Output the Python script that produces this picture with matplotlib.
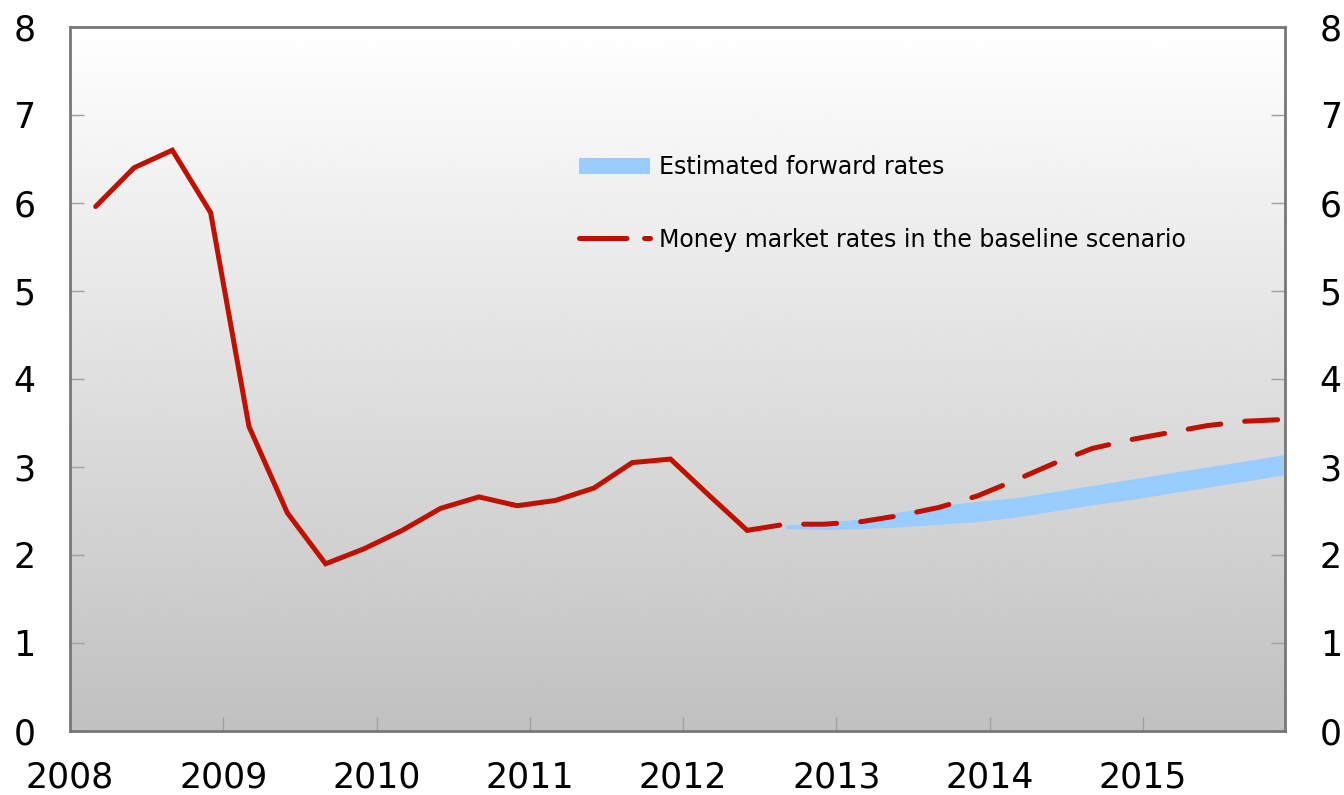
import numpy as np
import matplotlib
matplotlib.use("Agg")
import matplotlib.pyplot as plt
from matplotlib.patches import Patch
from matplotlib.lines import Line2D

plt.rcParams['font.family'] = ['DejaVu Sans']

# quarterly observations, 2008 Q1 .. 2015 Q4
first_quarter = 2008.0
quarters = np.arange(32)

# money market rates, history (2008 Q1 - 2012 Q2)
history = [5.96, 6.40, 6.60, 5.89, 3.46, 2.48, 1.90, 2.07, 2.28, 2.53,
           2.66, 2.56, 2.62, 2.76, 3.05, 3.09, 2.68, 2.28]
# baseline scenario (2012 Q2 - 2015 Q4)
baseline = [2.28, 2.35, 2.35, 2.38, 2.45, 2.54, 2.67, 2.85, 3.04, 3.21,
            3.31, 3.39, 3.47, 3.52, 3.54]
# estimated forward rates band (2012 Q3 - 2015 Q4)
fwd_low = [2.30, 2.29, 2.30, 2.32, 2.35, 2.38, 2.43, 2.50, 2.57, 2.63,
           2.70, 2.77, 2.84, 2.91]
fwd_high = [2.34, 2.37, 2.41, 2.49, 2.56, 2.61, 2.65, 2.72, 2.79, 2.86,
            2.93, 3.00, 3.07, 3.14]

years = list(range(2008, 2016))
red = '#bf1000'
blue = '#99ccff'

x = first_quarter + 0.1675 + 0.25 * quarters
x_hist = x[:len(history)]
x_base = x[len(history) - 1:]
x_band = x[len(history):]

fig = plt.figure(figsize=(13.44, 7.95), dpi=100)
ax = fig.add_axes([70 / 1344, 1 - 731 / 795, 1215 / 1344, 704 / 795])

x0, x1 = 2008.0, 2015.926
ax.set_xlim(x0, x1)
ax.set_ylim(0, 8)

# vertical grey gradient behind the plot
grad = np.linspace(1.0, 0.755, 256).reshape(-1, 1)
ax.imshow(grad, extent=[x0, x1, 0, 8], aspect='auto', cmap='gray',
          vmin=0, vmax=1, zorder=0, interpolation='bicubic')

ax.fill_between(x_band, fwd_low, fwd_high, color=blue, lw=0, zorder=2)
ax.plot(x_hist, history, color=red, lw=3.6, solid_joinstyle='miter',
        solid_capstyle='round', zorder=3)
ax.plot(x_base, baseline, color=red, lw=3.6, linestyle=(0, (6.6, 4.8)),
        dash_capstyle='round', zorder=3)

ax.set_xticks(years)
ax.set_xticklabels([str(y) for y in years])
ax.set_yticks(range(0, 9))
ax.tick_params(axis='both', direction='in', length=10, width=1,
               color='#a0a0a0', labelsize=25)
ax.tick_params(axis='y', pad=25, right=True, labelright=True)
ax.tick_params(axis='x', pad=21)
for s in ax.spines.values():
    s.set_color('#777777')
    s.set_linewidth(2)

handles = [Patch(facecolor=blue, edgecolor='none'),
           Line2D([], [], color=red, lw=3.6, linestyle=(0, (9.5, 3.5)),
                  dash_capstyle='round')]
labels = ['Estimated forward rates', 'Money market rates in the baseline scenario']
ax.legend(handles, labels, loc='upper left', bbox_to_anchor=(0.419, 0.818),
          frameon=False, fontsize=17, handlelength=3.0, handleheight=0.65,
          handletextpad=0.4, labelspacing=2.05, borderpad=0, borderaxespad=0)

fig.savefig('out.png', dpi=100)
